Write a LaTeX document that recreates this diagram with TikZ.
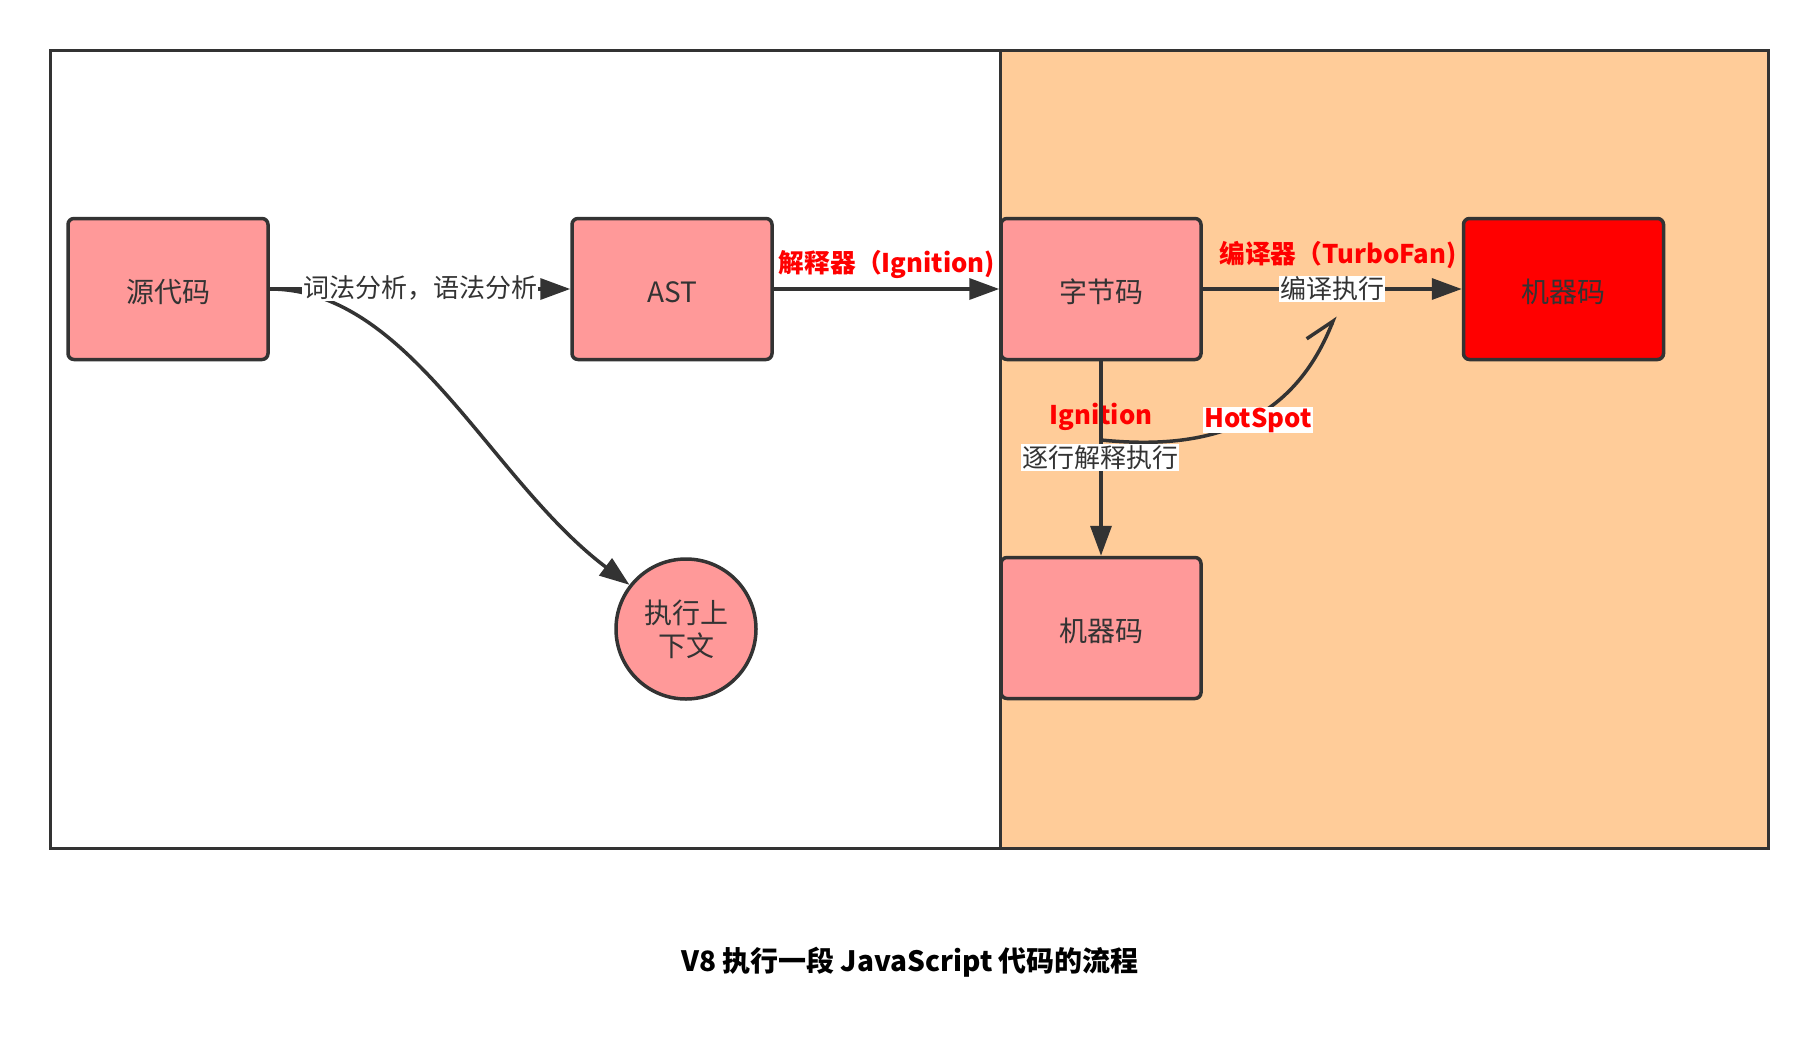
\documentclass[tikz,border=0pt]{standalone}
\usepackage{fontspec}
\setmainfont{Noto Sans CJK SC}
\usetikzlibrary{arrows.meta}
\definecolor{strk}{HTML}{333333}
\definecolor{pinkf}{HTML}{FF9999}
\definecolor{orangef}{HTML}{FFCC99}
\definecolor{redf}{HTML}{FF0000}
\begin{document}
\begin{tikzpicture}[x=1pt,y=-1pt,
  frame/.style={draw=strk, line width=3pt},
  box/.style={draw=strk, line width=3.5pt, fill=pinkf, rounded corners=6pt,
    minimum width=200pt, minimum height=141pt, inner sep=0pt,
    text height=27pt, text depth=1pt,
    font=\fontsize{28}{34}\selectfont, text=strk},
  ctxnode/.style={draw=strk, line width=3.5pt, fill=pinkf, circle,
    minimum size=140pt, inner sep=0pt, align=center,
    font=\fontsize{28}{33}\selectfont, text=strk},
  edgelbl/.style={fill=white, inner sep=1pt, font=\fontsize{26}{30}\selectfont, text=strk},
  redlbl/.style={inner sep=1pt, font=\fontsize{25.7}{30}\selectfont\bfseries, text=redf},
  conn/.style={draw=strk, line width=3.5pt, -{Triangle[length=30pt,width=21pt]}},
  hookconn/.style={draw=strk, line width=3.5pt, line cap=round,
    -{Straight Barb[harpoon,length=26pt,width=36pt,line width=3.5pt]}}
]
\useasboundingbox (0,0) rectangle (1818,1047);
\fill[white] (0,0) rectangle (1818,1047);
% containers
\draw[frame, fill=white] (50,50) rectangle (1000,848);
\draw[frame, fill=orangef] (1000,50) rectangle (1768,848);

% nodes
\node[box] (src) at (168,289) {源代码};
\node[box] (ast) at (672,289) {AST};
\node[box] (bc) at (1101,289) {字节码};
\node[box, fill=redf] (mc1) at (1563.5,289) {机器码};
\node[box] (mc2) at (1101,628) {机器码};
\node[ctxnode] (ctx) at (686,629) {执行上\\下文};

\coordinate (hsstart) at (1101,440);
\coordinate (hsend) at (1335,316);

% red labels (drawn under lines)
\node[redlbl] (lblign) at (1101,417) {Ignition};
\node[redlbl] (lblinterp) at (887,264) {解释器（Ignition)};
\node[redlbl] (lblcomp) at (1338,255) {编译器（TurboFan)};

% connectors
\draw[conn] (src.east) .. controls (410,289) and (490,480) .. (ctx.142);
\draw[conn] (src) -- node[edgelbl, yshift=1pt] (lbllex) {词法分析，语法分析} (ast);
\draw[conn] (ast) -- (bc);
\draw[conn] (bc) -- node[edgelbl] (lblcx) {编译执行} (mc1);
\draw[hookconn] (hsstart) .. controls (1200,450) and (1290,430) .. (hsend);
\draw[conn] (bc) -- (mc2);
\node[edgelbl] (lblline) at (1100,457.5) {逐行解释执行};
\node[redlbl, fill=white] (lblhot) at (1258,420) {HotSpot};

% title
\node[font=\fontsize{28}{32}\selectfont\bfseries, text=black] (title) at (910,962)
  {V8 执行一段 JavaScript 代码的流程};
\end{tikzpicture}
\end{document}
